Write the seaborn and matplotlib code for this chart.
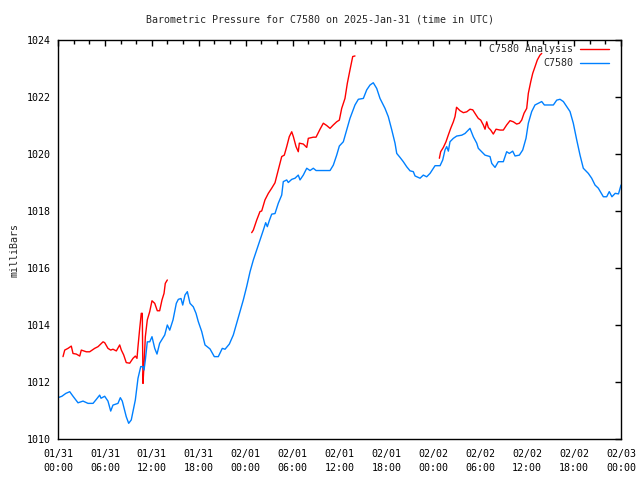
import numpy as np
import pandas as pd
import matplotlib
matplotlib.use("Agg")
import matplotlib.pyplot as plt
import matplotlib.dates as mdates
import seaborn as sns

# ---- data (hours after 2025-01-31 00:00 UTC, pressure in mb) ----
obs_hours = [0.0, 0.5, 1.0, 1.5, 1.92, 2.56, 3.2, 3.84, 4.48, 4.9, 5.33, 5.5, 5.97, 6.39, 6.74,
             7.03, 7.67, 7.97, 8.22, 8.73, 9.04, 9.37, 9.89, 10.23, 10.58, 10.87, 11.0, 11.17,
             11.42, 11.73, 12.02, 12.37, 12.66, 13.0, 13.65, 13.98, 14.29, 14.71, 15.13, 15.39,
             15.73, 15.95, 16.24, 16.54, 16.88, 17.3, 17.65, 17.94, 18.38, 18.8, 19.44, 19.99,
             20.5, 21.01, 21.36, 21.91, 22.42, 22.85, 23.28, 23.7, 24.13, 24.56, 24.98, 25.41,
             25.83, 26.26, 26.56, 26.77, 27.02, 27.33, 27.75, 28.17, 28.61, 28.81, 29.25, 29.45,
             29.89, 30.31, 30.73, 30.95, 31.37, 31.81, 32.23, 32.65, 33.0, 34.79, 35.21, 35.64,
             35.98, 36.49, 36.92, 37.34, 37.98, 38.41, 39.05, 39.48, 39.9, 40.32, 40.76, 41.18,
             41.82, 42.24, 42.68, 43.1, 43.32, 43.74, 44.16, 44.6, 45.02, 45.44, 45.66, 46.3,
             46.72, 47.15, 47.58, 48.22, 48.86, 49.2, 49.49, 49.71, 49.92, 50.13, 50.56, 50.99,
             51.63, 52.05, 52.69, 53.12, 53.55, 53.75, 53.97, 54.61, 55.25, 55.47, 55.89, 56.31,
             56.95, 57.38, 57.72, 58.15, 58.45, 59.0, 59.43, 59.85, 60.15, 60.58, 61.0, 61.43,
             61.86, 62.2, 63.35, 63.78, 64.2, 64.63, 65.06, 65.48, 65.9, 66.34, 66.76, 67.18,
             67.82, 68.25, 68.68, 69.1, 69.74, 70.17, 70.5, 70.84, 71.26, 71.68, 72.0]
obs_mb = [1011.45, 1011.5, 1011.6, 1011.66, 1011.5, 1011.27, 1011.33, 1011.25, 1011.25, 1011.39,
          1011.54, 1011.43, 1011.5, 1011.33, 1010.98, 1011.19, 1011.25, 1011.45, 1011.33, 1010.78,
          1010.55, 1010.67, 1011.37, 1012.13, 1012.54, 1012.54, 1012.42, 1012.77, 1013.41, 1013.41,
          1013.59, 1013.18, 1012.98, 1013.36, 1013.65, 1014.0, 1013.82, 1014.18, 1014.76, 1014.9,
          1014.93, 1014.7, 1015.05, 1015.17, 1014.76, 1014.64, 1014.41, 1014.12, 1013.77, 1013.3,
          1013.16, 1012.89, 1012.89, 1013.18, 1013.15, 1013.33, 1013.65, 1014.06, 1014.47, 1014.88,
          1015.35, 1015.87, 1016.28, 1016.63, 1016.98, 1017.33, 1017.59, 1017.45, 1017.66, 1017.89,
          1017.91, 1018.27, 1018.56, 1019.03, 1019.09, 1019.0, 1019.11, 1019.15, 1019.26, 1019.09,
          1019.26, 1019.5, 1019.42, 1019.5, 1019.42, 1019.42, 1019.61, 1019.96, 1020.28, 1020.43,
          1020.84, 1021.25, 1021.72, 1021.92, 1021.95, 1022.25, 1022.42, 1022.5, 1022.3, 1021.95,
          1021.6, 1021.31, 1020.85, 1020.38, 1020.02, 1019.88, 1019.73, 1019.55, 1019.41, 1019.38,
          1019.23, 1019.15, 1019.26, 1019.2, 1019.32, 1019.59, 1019.59, 1019.79, 1020.14, 1020.26,
          1020.1, 1020.43, 1020.55, 1020.63, 1020.66, 1020.72, 1020.9, 1020.6, 1020.38, 1020.2,
          1020.14, 1019.96, 1019.91, 1019.67, 1019.53, 1019.73, 1019.73, 1020.08, 1020.02, 1020.1,
          1019.93, 1019.96, 1020.14, 1020.55, 1021.08, 1021.49, 1021.72, 1021.78, 1021.84, 1021.72,
          1021.72, 1021.89, 1021.92, 1021.84, 1021.66, 1021.49, 1021.08, 1020.49, 1019.96, 1019.5,
          1019.32, 1019.15, 1018.91, 1018.8, 1018.5, 1018.5, 1018.68, 1018.5, 1018.62, 1018.6, 1018.91]

ana1_hours = [0.64, 0.86, 1.28, 1.7, 1.92, 2.34, 2.78, 2.98, 3.62, 4.05, 4.69, 5.12, 5.76, 5.97,
              6.39, 6.74, 7.03, 7.46, 7.89, 8.1, 8.4, 8.73, 9.17, 9.59, 9.89, 10.1, 10.23, 10.45,
              10.65, 10.78, 10.87, 11.0, 11.17, 11.42, 11.73, 12.02, 12.37, 12.7, 13.0, 13.3,
              13.56, 13.72, 13.98]
ana1_mb = [1012.89, 1013.12, 1013.18, 1013.26, 1013.0, 1012.98, 1012.91, 1013.12, 1013.06, 1013.06,
           1013.18, 1013.24, 1013.41, 1013.38, 1013.18, 1013.12, 1013.15, 1013.09, 1013.3, 1013.12,
           1012.95, 1012.68, 1012.66, 1012.83, 1012.91, 1012.83, 1013.24, 1013.88, 1014.41, 1014.41,
           1011.95, 1012.6, 1013.59, 1014.18, 1014.47, 1014.85, 1014.76, 1014.5, 1014.5, 1014.88,
           1015.11, 1015.46, 1015.58]

ana2_hours = [24.77, 24.98, 25.41, 25.83, 26.05, 26.47, 26.9, 27.33, 27.75, 28.17, 28.61, 28.94,
              29.25, 29.58, 29.89, 30.1, 30.44, 30.73, 30.86, 31.37, 31.81, 32.01, 32.65, 33.0,
              33.51, 33.93, 34.36, 34.79, 35.21, 35.64, 35.98, 36.28, 36.7, 37.0, 37.34, 37.69, 37.98]
ana2_mb = [1017.24, 1017.33, 1017.68, 1017.98, 1018.0, 1018.39, 1018.62, 1018.8, 1018.99, 1019.44,
           1019.91, 1019.96, 1020.26, 1020.61, 1020.78, 1020.61, 1020.26, 1020.08, 1020.38, 1020.35,
           1020.23, 1020.55, 1020.59, 1020.59, 1020.87, 1021.08, 1021.0, 1020.9, 1021.02, 1021.13,
           1021.19, 1021.6, 1021.95, 1022.48, 1022.95, 1023.42, 1023.44]

ana3_hours = [48.77, 48.94, 49.28, 49.62, 49.92, 50.22, 50.56, 50.77, 50.97, 51.41, 51.84, 52.27,
              52.69, 53.04, 53.46, 53.75, 54.06, 54.39, 54.61, 54.83, 55.03, 55.34, 55.67, 56.02,
              56.53, 56.95, 57.38, 57.81, 58.23, 58.66, 59.0, 59.3, 59.6, 59.94, 60.15, 60.46,
              60.71, 61.0, 61.3, 61.64, 61.86]
ana3_mb = [1019.85, 1020.08, 1020.23, 1020.43, 1020.67, 1020.9, 1021.13, 1021.31, 1021.64, 1021.52,
           1021.45, 1021.48, 1021.57, 1021.55, 1021.37, 1021.25, 1021.19, 1021.02, 1020.87, 1021.13,
           1020.93, 1020.84, 1020.7, 1020.87, 1020.84, 1020.84, 1021.02, 1021.17, 1021.13, 1021.05,
           1021.08, 1021.19, 1021.43, 1021.6, 1022.13, 1022.54, 1022.83, 1023.06, 1023.3, 1023.47,
           1023.53]

y_ticks = [1010, 1012, 1014, 1016, 1018, 1020, 1022, 1024]
title = "Barometric Pressure for C7580 on 2025-Jan-31 (time in UTC)"
ylabel = "milliBars"
obs_label = "C7580"
ana_label = "C7580 Analysis"
red = "#ff0000"
blue = "#0080ff"

base = pd.Timestamp("2025-01-31 00:00")
def to_time(h):
    return base + pd.to_timedelta(np.array(h), unit="h")

sns.set_style("white")
plt.rcParams["font.family"] = ["DejaVu Sans Mono", "DejaVu Sans"]
plt.rcParams["font.size"] = 7.2

fig = plt.figure(figsize=(6.4, 4.8), dpi=100)
ax = fig.add_axes([58/640, 41/480, 563/640, 399/480])

lw = 1.0
sns.lineplot(x=to_time(ana1_hours), y=ana1_mb, ax=ax, color=red, lw=lw, sort=False,
             estimator=None, label=ana_label)
sns.lineplot(x=to_time(ana2_hours), y=ana2_mb, ax=ax, color=red, lw=lw, sort=False,
             estimator=None, legend=False)
sns.lineplot(x=to_time(ana3_hours), y=ana3_mb, ax=ax, color=red, lw=lw, sort=False,
             estimator=None, legend=False)
sns.lineplot(x=to_time(obs_hours), y=obs_mb, ax=ax, color=blue, lw=lw, sort=False,
             estimator=None, label=obs_label)

ax.set_xlim(base, base + pd.Timedelta(hours=72))
ax.set_ylim(1010, 1024)
ax.set_yticks(y_ticks)
ax.xaxis.set_major_locator(mdates.HourLocator(byhour=[0, 6, 12, 18]))
ax.xaxis.set_minor_locator(mdates.HourLocator(byhour=range(0, 24, 2)))
ax.xaxis.set_major_formatter(mdates.DateFormatter("%m/%d\n%H:%M"))
ax.tick_params(axis="both", which="both", direction="in", top=True, right=True,
               colors="black", labelsize=7.2, width=1)
ax.tick_params(axis="both", which="major", length=4.5)
ax.tick_params(axis="x", which="major", pad=7.5)
ax.tick_params(axis="y", which="major", pad=5)
ax.tick_params(axis="both", which="minor", length=3)
for lab in ax.get_xticklabels():
    lab.set_linespacing(1.4)
for s in ax.spines.values():
    s.set_color("black")
    s.set_linewidth(1)
ax.set_xlabel("")
ax.set_ylabel("")

fig.text(0.5, 1 - 20/480, title, ha="center", va="center", fontsize=7.2)
fig.text(14/640, 0.5 - 10/480, ylabel, ha="center", va="center", rotation=90, fontsize=7.2)

h, l = ax.get_legend_handles_labels()
ax.legend(h, l, loc="upper right", bbox_to_anchor=(609/640, 1 - 44/480),
          bbox_transform=fig.transFigure, frameon=False, markerfirst=False,
          borderpad=0, borderaxespad=0, handlelength=2.9, handletextpad=0.7,
          labelspacing=0.4, fontsize=7.2)

fig.savefig("out.png", dpi=100)
